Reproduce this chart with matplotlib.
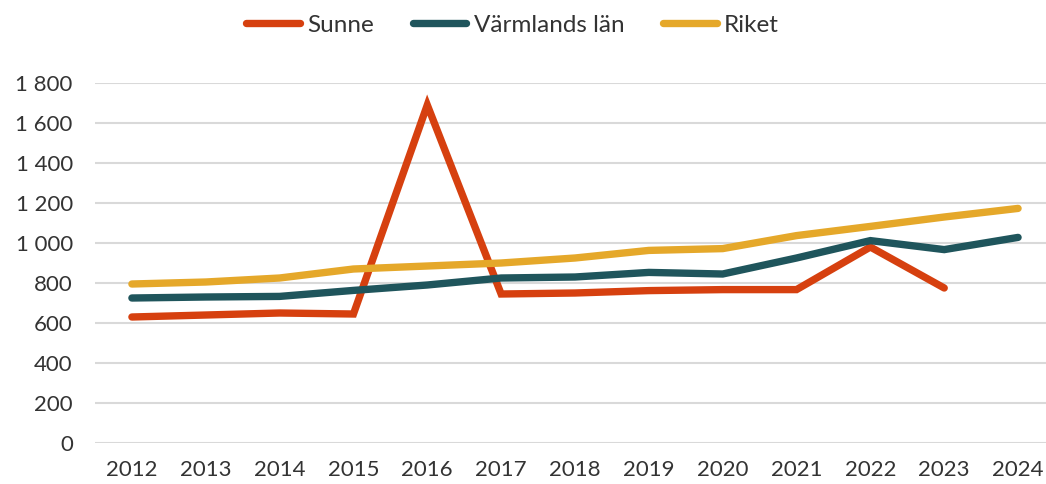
import matplotlib
matplotlib.use("Agg")
import matplotlib.pyplot as plt
from matplotlib.ticker import FuncFormatter
from matplotlib.lines import Line2D

years = ["2012", "2013", "2014", "2015", "2016", "2017", "2018", "2019", "2020", "2021", "2022", "2023", "2024"]
sunne = [630, 640, 650, 645, 1690, 745, 750, 762, 767, 767, 980, 775, None]
varmland = [725, 730, 733, 763, 790, 825, 830, 853, 845, 925, 1012, 967, 1028]
riket = [795, 805, 825, 870, 885, 900, 925, 963, 972, 1037, 1083, 1130, 1173]

series = [("Sunne", sunne, "#D6400F"), ("Värmlands län", varmland, "#1F555C"), ("Riket", riket, "#E5A82A")]

plt.rcParams['font.family'] = ['Lato', 'DejaVu Sans']
fig = plt.figure(figsize=(10.46, 4.84), dpi=100)
ax = fig.add_axes([0.0908, 0.0847, 0.9178, 0.7438])

x = list(range(len(years)))
handles = []
for name, vals, col in series:
    xs = [i for i, v in zip(x, vals) if v is not None]
    ys = [v for v in vals if v is not None]
    ax.plot(xs, ys, color=col, lw=5.3, solid_capstyle='round', solid_joinstyle='miter', clip_on=False, zorder=3)
    handles.append(Line2D([0], [0], color=col, lw=5.3, solid_capstyle='round', label=name))

ax.set_xlim(-0.5, len(years) - 0.5)
ax.set_ylim(0, 1800)
ax.set_yticks(range(0, 1801, 200))
ax.yaxis.set_major_formatter(FuncFormatter(lambda v, p: f"{int(v):,}".replace(",", " ")))
ax.set_xticks(x)
ax.set_xticklabels(years)
ax.grid(axis='y', color='#d9d9d9', lw=1.5)
ax.set_axisbelow(True)
for s in ax.spines.values():
    s.set_visible(False)
ax.tick_params(axis='both', length=0, labelsize=16, colors='#333333', labelcolor='#333333')
ax.tick_params(axis='x', pad=12)
ax.tick_params(axis='y', pad=16)

leg = fig.legend(handles=handles, loc='center', bbox_to_anchor=(0.49, 0.948), ncol=3, frameon=False,
                 handlelength=2.2, handletextpad=0.3, columnspacing=1.6, prop={'size': 17.5})
for t in leg.get_texts():
    t.set_color('#333333')

fig.savefig("out.png", dpi=100)
